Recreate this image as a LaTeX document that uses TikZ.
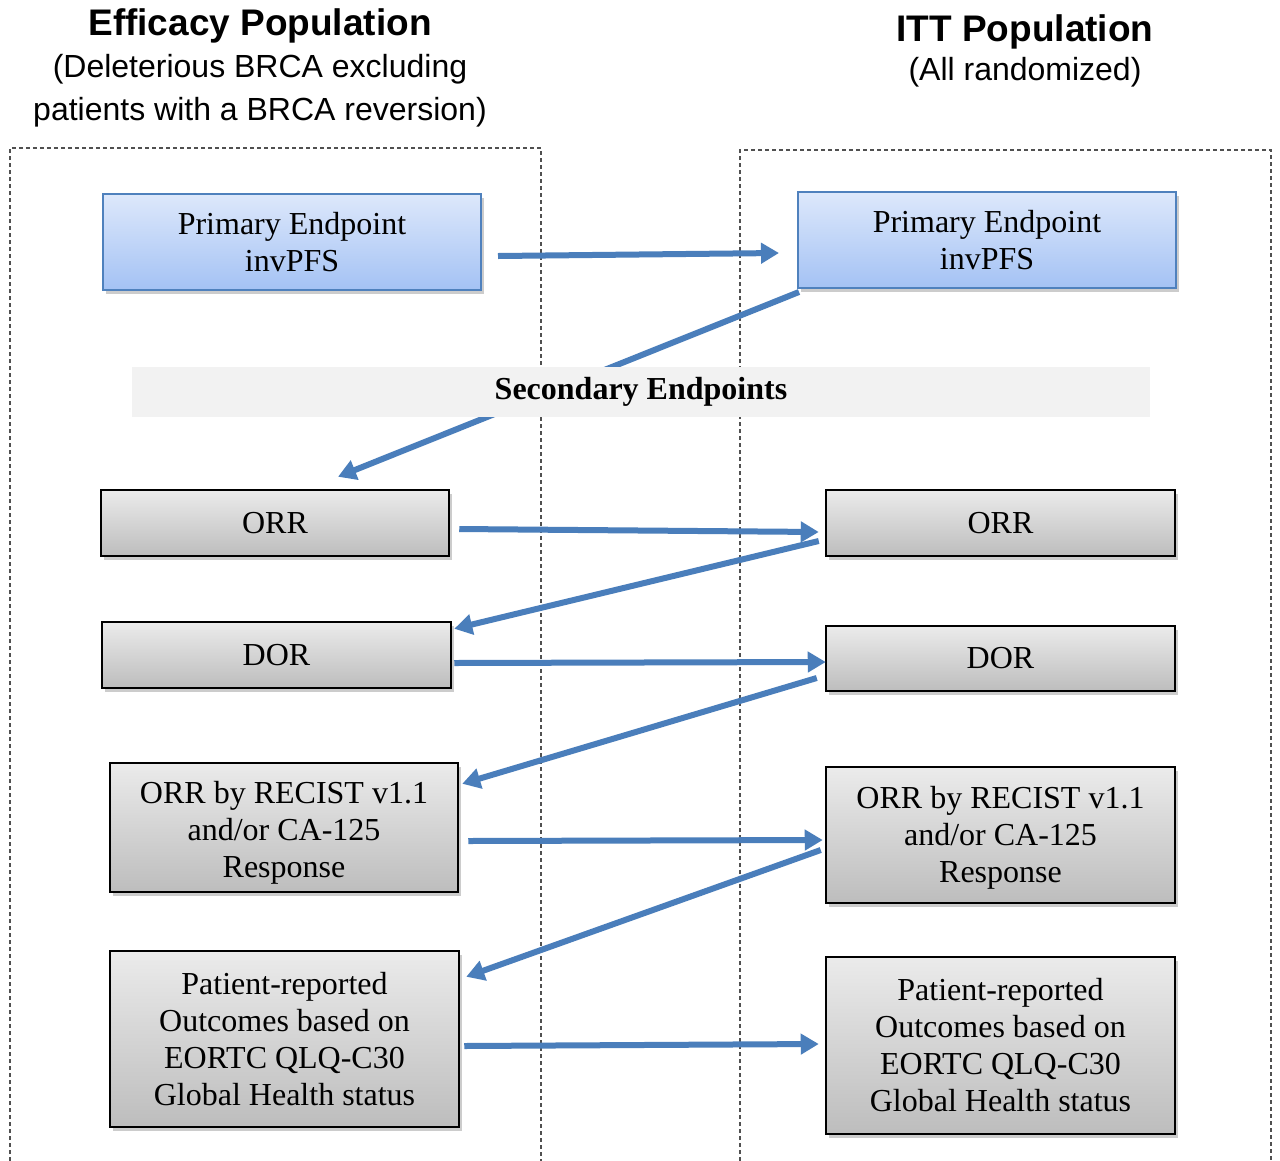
\documentclass[tikz,border=0pt]{standalone}
\usepackage{fontspec}
\setmainfont{Liberation Serif}
\newfontfamily\hd{Liberation Sans}
\usetikzlibrary{arrows.meta,shadows,calc}
\definecolor{arrblue}{HTML}{4A7EBB}
\definecolor{bluetop}{HTML}{DDE8FB}
\definecolor{bluebot}{HTML}{A4C2F4}
\definecolor{blueedge}{HTML}{4F81BD}
\definecolor{graytop}{HTML}{EBEBEB}
\definecolor{graybot}{HTML}{BDBDBD}
\definecolor{bandgray}{HTML}{F2F2F2}
\definecolor{dashgray}{HTML}{505050}
\begin{document}
\begin{tikzpicture}[x=1pt,y=-1pt,
  boxfont/.style={font=\fontsize{32}{37}\selectfont},
  bluebox/.style={draw=blueedge, line width=2pt, top color=bluetop, bottom color=bluebot,
    inner sep=0pt, align=center, boxfont,
    drop shadow={shadow xshift=3pt, shadow yshift=-4pt, fill=black, opacity=0.2}},
  graybox/.style={draw=black, line width=2.5pt, top color=graytop, bottom color=graybot,
    inner sep=0pt, align=center, boxfont,
    drop shadow={shadow xshift=3pt, shadow yshift=-4pt, fill=black, opacity=0.2}},
  arr/.style={draw=arrblue, line width=6pt, -{Triangle[length=18pt,width=20pt]}},
  popbox/.style={draw=dashgray, line width=1.2pt, dash pattern=on 4pt off 3pt},
  ttl/.style={font=\hd\bfseries\fontsize{37}{42}\selectfont, anchor=base, inner sep=0pt},
  sub/.style={font=\hd\fontsize{32}{37}\selectfont, anchor=base, inner sep=0pt}]
\useasboundingbox (0,0) rectangle (1280,1160);
\fill[white] (0,0) rectangle (1280,1160);

% titles
\node[ttl] (t1) at (260,35) {Efficacy Population};
\node[sub] (t2) at (260,77) {(Deleterious BRCA excluding};
\node[sub] (t3) at (260,120) {patients with a BRCA reversion)};
\node[ttl] (t4) at (1025,41) {ITT Population};
\node[sub] (t5) at (1025,80) {(All randomized)};

% population frames
\draw[popbox] (10,1175) -- (10,148) -- (541,148) -- (541,1175);
\draw[popbox] (740,1175) -- (740,150) -- (1271,150) -- (1271,1175);

% boxes
\node[bluebox, minimum width=378, minimum height=96] (lp) at (292,242) {Primary Endpoint\\invPFS};
\node[bluebox, minimum width=378, minimum height=96] (rp) at (987,240) {Primary Endpoint\\invPFS};

\node[graybox, minimum width=348, minimum height=66] (lorr) at (275,523) {ORR};
\node[graybox, minimum width=349, minimum height=66] (rorr) at (1000.5,523) {ORR};
\node[graybox, minimum width=349, minimum height=66] (ldor) at (276.5,655) {DOR};
\node[graybox, minimum width=349, minimum height=65] (rdor) at (1000.5,658.5) {DOR};
\node[graybox, minimum width=348, minimum height=129, text height=107pt, text depth=7pt] (lrec) at (284,827.5) {ORR by RECIST v1.1\\and/or CA-125\\Response};
\node[graybox, minimum width=349, minimum height=136, text height=101pt, text depth=7pt] (rrec) at (1000.5,835) {ORR by RECIST v1.1\\and/or CA-125\\Response};
\node[graybox, minimum width=349, minimum height=176] (lpat) at (284.5,1039) {Patient-reported\\Outcomes based on\\EORTC QLQ-C30\\Global Health status};
\node[graybox, minimum width=349, minimum height=177] (rpat) at (1000.5,1045.5) {Patient-reported\\Outcomes based on\\EORTC QLQ-C30\\Global Health status};

% arrow behind the band
\draw[arr] ([shift={(2,3)}]rp.south west) -- ([shift={(63,-12)}]lorr.north);

% secondary endpoints band
\node[fill=bandgray, minimum width=1018, minimum height=50, inner sep=0pt,
  font=\bfseries\fontsize{32}{37}\selectfont] (band) at (641,392) {Secondary Endpoints};

% arrows
\draw[arr] ([shift={(16,14)}]lp.east) -- ([shift={(-18,13)}]rp.west);
\draw[arr] ([shift={(9,6)}]lorr.east) -- ([shift={(-6,9)}]rorr.west);
\draw[arr] ([shift={(-6,18)}]rorr.west) -- ([shift={(2,8)}]ldor.north east);
\draw[arr] ([shift={(2,8)}]ldor.east) -- ([shift={(1,3.5)}]rdor.west);
\draw[arr] ([shift={(-8,19.5)}]rdor.west) -- ([shift={(3,22)}]lrec.north east);
\draw[arr] ([shift={(9,13.5)}]lrec.east) -- ([shift={(-2,5)}]rrec.west);
\draw[arr] ([shift={(-4,15)}]rrec.west) -- ([shift={(6,27)}]lpat.north east);
\draw[arr] ([shift={(4,7)}]lpat.east) -- ([shift={(-6,-1.5)}]rpat.west);
\end{tikzpicture}
\end{document}
